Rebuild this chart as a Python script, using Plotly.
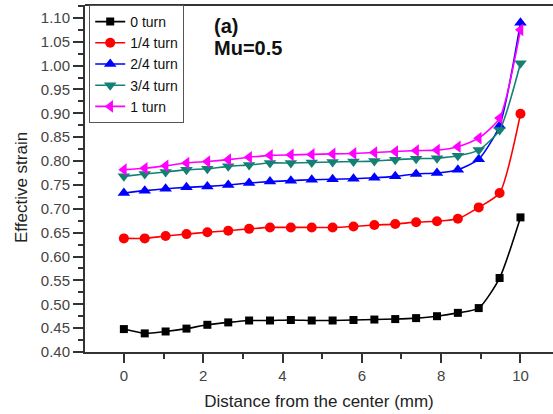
import plotly.graph_objects as go

x_vals = [i * 10 / 19 for i in range(20)]

turn0 = [0.448, 0.439, 0.443, 0.449, 0.457, 0.462, 0.466, 0.466, 0.467, 0.466,
         0.466, 0.467, 0.468, 0.469, 0.471, 0.475, 0.482, 0.492, 0.555, 0.682]
turn14 = [0.638, 0.638, 0.643, 0.647, 0.651, 0.654, 0.658, 0.661, 0.661, 0.661,
          0.661, 0.663, 0.666, 0.668, 0.672, 0.674, 0.679, 0.703, 0.733, 0.899]
turn24 = [0.733, 0.738, 0.742, 0.745, 0.747, 0.750, 0.754, 0.757, 0.759, 0.761,
          0.762, 0.763, 0.765, 0.768, 0.773, 0.775, 0.782, 0.804, 0.874, 1.090]
turn34 = [0.768, 0.773, 0.777, 0.782, 0.784, 0.789, 0.792, 0.796, 0.796, 0.797,
          0.798, 0.799, 0.800, 0.803, 0.805, 0.806, 0.811, 0.823, 0.865, 1.005]
turn1 = [0.782, 0.785, 0.790, 0.796, 0.799, 0.803, 0.808, 0.812, 0.813, 0.814,
         0.815, 0.816, 0.818, 0.820, 0.822, 0.823, 0.830, 0.848, 0.890, 1.075]

names = ["0 turn", "1/4 turn", "2/4 turn", "3/4 turn", "1 turn"]
series = [turn0, turn14, turn24, turn34, turn1]
colors = ["#000000", "#ff0000", "#0000ff", "#138074", "#ff00ff"]
symbols = ["square", "circle", "triangle-up", "triangle-down", "triangle-left"]
sizes = [8, 10, 11, 11, 11]

fig = go.Figure()
for n, s, c, sym, sz in zip(names, series, colors, symbols, sizes):
    fig.add_trace(go.Scatter(
        x=x_vals, y=s, name=n, mode="lines+markers",
        line=dict(color=c, width=1.6, shape="spline", smoothing=0.6),
        marker=dict(symbol=sym, size=sz, color=c),
    ))

font_family = "Liberation Sans, Arial, sans-serif"
fig.update_layout(
    width=553, height=414,
    margin=dict(l=85, r=0, t=5, b=62),
    paper_bgcolor="white", plot_bgcolor="white",
    font=dict(family=font_family, color="#333333"),
    showlegend=True,
    legend=dict(
        x=0.009, y=1.0, xanchor="left", yanchor="top",
        bordercolor="#555555", borderwidth=1, bgcolor="white",
        font=dict(size=14, color="#111111"),
        tracegroupgap=0, itemwidth=30,
    ),
    xaxis=dict(
        range=[-0.98, 10.82], showgrid=False, zeroline=False,
        showline=True, linecolor="#333333", linewidth=2, mirror=False,
        tickmode="array", tickvals=[0, 2, 4, 6, 8, 10],
        ticks="outside", ticklen=9, tickwidth=2, tickcolor="#333333",
        minor=dict(tickvals=[1, 3, 5, 7, 9], ticks="outside", ticklen=5,
                   tickwidth=2, tickcolor="#333333"),
        tickfont=dict(size=15, color="#444444"),
        title=dict(text="Distance from the center (mm)",
                   font=dict(size=17, color="#222222"), standoff=12),
    ),
    yaxis=dict(
        range=[0.40, 1.127], showgrid=False, zeroline=False,
        showline=True, linecolor="#333333", linewidth=2,
        tickmode="array",
        tickvals=[0.40 + 0.05 * i for i in range(15)],
        ticktext=["%.2f" % (0.40 + 0.05 * i) for i in range(15)],
        ticks="outside", ticklen=10, tickwidth=2, tickcolor="#333333",
        minor=dict(tickvals=[0.425 + 0.05 * i for i in range(15)], ticks="outside",
                   ticklen=5, tickwidth=2, tickcolor="#333333"),
        tickfont=dict(size=15, color="#444444"),
    ),
)

fig.add_shape(type="line", xref="paper", yref="paper", x0=0, x1=1, y0=1, y1=1,
              line=dict(color="#333333", width=2))

fig.add_annotation(text="Effective strain", xref="paper", yref="paper",
                   x=-(85 - 22) / 468, y=(352 - 188) / 347, xanchor="center", yanchor="middle",
                   textangle=-90, showarrow=False,
                   font=dict(size=17, color="#222222", family=font_family))

fig.add_annotation(text="<b>(a)</b>", xref="paper", yref="paper",
                   x=(212 - 85) / 468, y=(352 - 26) / 347, xanchor="left", yanchor="middle",
                   showarrow=False, font=dict(size=20, color="#111111", family=font_family))
fig.add_annotation(text="<b>Mu=0.5</b>", xref="paper", yref="paper",
                   x=(212 - 85) / 468, y=(352 - 48) / 347, xanchor="left", yanchor="middle",
                   showarrow=False, font=dict(size=20, color="#111111", family=font_family))

fig.write_html("out.html")
